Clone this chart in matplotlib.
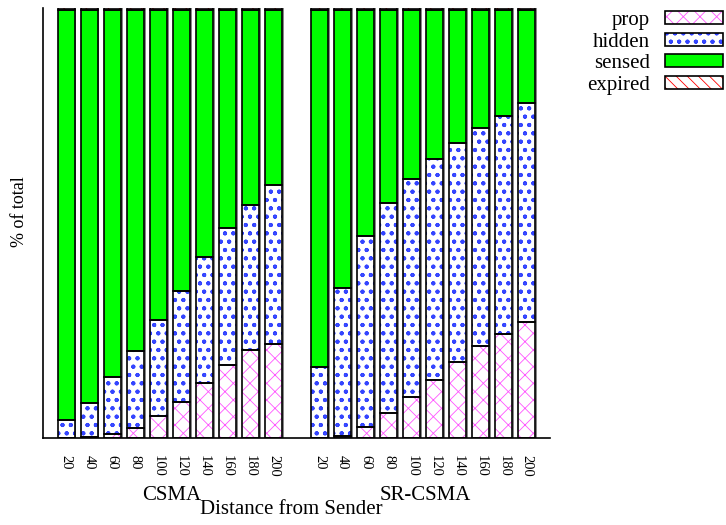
import numpy as np
import matplotlib
matplotlib.use('Agg')
import matplotlib.pyplot as plt
from matplotlib.patches import Patch
from matplotlib.legend_handler import HandlerTuple

plt.rcParams['font.family'] = 'Liberation Serif'
plt.rcParams['hatch.linewidth'] = 0.6

distances = ['20', '40', '60', '80', '100', '120', '140', '160', '180', '200']

# % of total
csma_prop = [0.0, 0.3, 0.9, 2.4, 5.1, 8.4, 12.9, 17.0, 20.5, 21.9]
csma_hidden = [4.1, 7.8, 13.3, 17.8, 22.3, 25.8, 29.1, 31.8, 33.6, 37.0]
csma_expired = [0.4, 0.4, 0.4, 0.4, 0.4, 0.4, 0.4, 0.4, 0.4, 0.4]

sr_prop = [0.0, 0.5, 2.5, 5.7, 9.5, 13.6, 17.7, 21.5, 24.1, 27.0]
sr_hidden = [16.4, 34.3, 44.4, 48.9, 50.7, 51.2, 50.8, 50.7, 50.7, 51.0]
sr_expired = [0.4, 0.4, 0.4, 0.4, 0.4, 0.4, 0.4, 0.4, 0.4, 0.4]

series = ['prop', 'hidden', 'sensed', 'expired']
face = {'prop': 'white', 'hidden': 'white', 'sensed': '#00ff00', 'expired': 'white'}
hcol = {'prop': '#ff55ff', 'hidden': '#3344ff', 'sensed': '#00ff00', 'expired': '#ff0000'}
hatch = {'prop': 'xx', 'hidden': 'oo..', 'sensed': '', 'expired': '\\\\\\'}

fig = plt.figure(figsize=(7.26, 5.25), dpi=100)
ax = fig.add_axes([43 / 726, 87 / 525, 507 / 726, 430 / 525])

n = len(distances)
groups = [
    (np.arange(n), csma_prop, csma_hidden, csma_expired),
    (np.arange(n) + n + 1, sr_prop, sr_hidden, sr_expired),
]
width = 0.74
for pos, prop, hidden, expired in groups:
    prop = np.array(prop)
    hidden = np.array(hidden)
    expired = np.array(expired)
    sensed = 100 - prop - hidden - expired
    vals = {'prop': prop, 'hidden': hidden, 'sensed': sensed, 'expired': expired}
    bottom = np.zeros(n)
    for s in series:
        v = vals[s]
        ax.bar(pos + 0.08, v, width, bottom=bottom, color='#888888', lw=0, zorder=1)
        ax.bar(pos, v, width, bottom=bottom, color=face[s], edgecolor=hcol[s],
               hatch=hatch[s], lw=0, zorder=2)
        ax.bar(pos, v, width, bottom=bottom, fill=False, edgecolor='black', lw=1.2, zorder=3)
        bottom += v

ticks = list(groups[0][0]) + list(groups[1][0])
ax.set_xticks(ticks)
ax.set_xticklabels(distances * 2, rotation=-90, fontsize=10.5)
ax.tick_params(axis='x', length=0, pad=12)
ax.set_yticks([])
ax.set_xlim(-1, 2 * n + 1)
ax.set_ylim(0, 100)
ax.spines['top'].set_visible(False)
ax.spines['right'].set_visible(False)
ax.spines['left'].set_linewidth(1.2)
ax.spines['bottom'].set_linewidth(1.2)

fig.text(20 / 726, 1 - 212 / 525, '% of total', rotation=90, ha='center', va='center', fontsize=13)
fig.text(172 / 726, 1 - 495 / 525, 'CSMA', ha='center', va='center', fontsize=15)
fig.text(425 / 726, 1 - 495 / 525, 'SR-CSMA', ha='center', va='center', fontsize=15)
fig.text(291 / 726, 1 - 510 / 525, 'Distance from Sender', ha='center', va='center', fontsize=15)

handles = []
for s in series:
    h1 = Patch(facecolor=face[s], edgecolor=hcol[s], hatch=hatch[s], lw=0)
    h2 = Patch(fill=False, edgecolor='black', lw=1.2)
    handles.append((h1, h2))
fig.legend(handles, series, handler_map={tuple: HandlerTuple(ndivide=1)},
           loc='upper right', bbox_to_anchor=(1.0, 1 - 8 / 525), markerfirst=False,
           frameon=False, fontsize=15, handlelength=2.8, handleheight=0.6,
           labelspacing=0.12, handletextpad=0.7, borderaxespad=0.0, borderpad=0.15)

fig.savefig('out.png', dpi=100)
